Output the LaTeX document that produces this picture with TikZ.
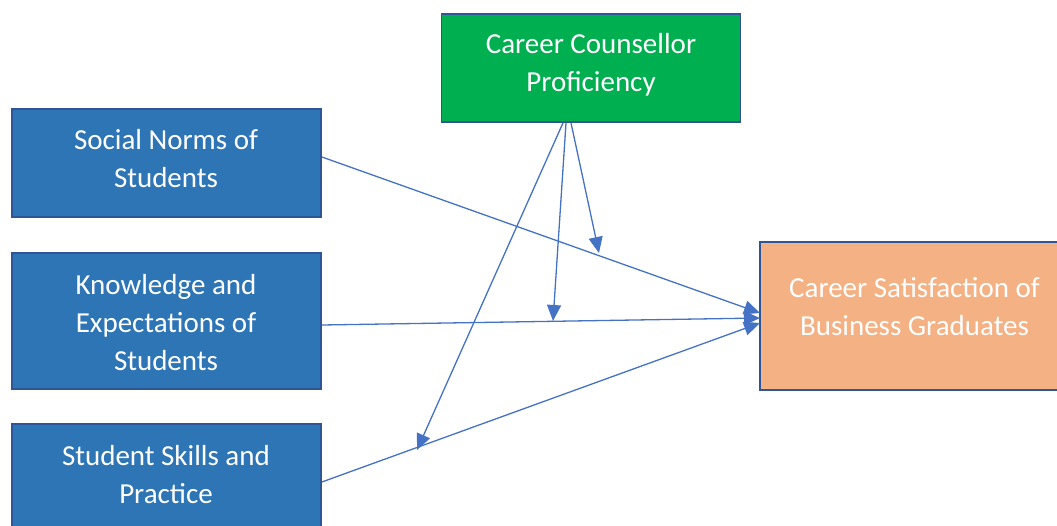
\documentclass[tikz,border=0pt]{standalone}
\usepackage{fontspec}
\setmainfont{Carlito}
\usetikzlibrary{arrows.meta,calc}

\definecolor{boxblue}{HTML}{2E75B6}
\definecolor{boxedge}{HTML}{2F5597}
\definecolor{boxgreen}{HTML}{00B050}
\definecolor{boxorange}{HTML}{F4B183}
\definecolor{linkblue}{HTML}{4472C4}

\tikzset{
  panel/.style={draw=boxedge, line width=1.8pt, rectangle, inner sep=0pt},
  factor/.style={panel, fill=boxblue},
  label text/.style={text=white, align=center, font=\fontsize{29}{38}\selectfont, inner sep=0pt},
  link/.style={draw=linkblue, line width=1.3pt, -{Triangle[length=16pt,width=14pt]}}
}

\begin{document}
\begin{tikzpicture}[x=1pt,y=-1pt]
\useasboundingbox (0,0) rectangle (1057,526);
\clip (0,0) rectangle (1057,526);

% boxes
\node[factor, minimum width=309pt, minimum height=108pt] (social) at (166.5,163) {};
\node[factor, minimum width=309pt, minimum height=136pt] (know) at (166.5,321) {};
\node[factor, minimum width=309pt, minimum height=130pt] (skills) at (166.5,489) {};
\node[panel, fill=boxgreen, minimum width=299pt, minimum height=108pt] (couns) at (591,68) {};
\node[panel, fill=boxorange, minimum width=309pt, minimum height=148pt] (target) at (914.5,316) {};

% box texts
\node[label text] (socialtxt) at (166,158.5) {Social Norms of\\Students};
\node[label text] (knowtxt) at (166,323) {Knowledge and\\Expectations of\\Students};
\node[label text] (skillstxt) at (166,475) {Student Skills and\\Practice};
\node[label text] (counstxt) at (591,65) {Career Counsellor\\Proficiency};
\node[label text] (targettxt) at (914.5,307) {Career Satisfaction of\\Business Graduates};

% direct effects
\coordinate (tA) at (760,313);
\coordinate (tB) at (760,318);
\coordinate (tC) at (760,323);
\draw[link] (social.east |- 0,157) -- (tA);
\draw[link] (know.east |- 0,325) -- (tB);
\draw[link] (skills.east |- 0,482) -- (tC);

% moderating effects
\coordinate (mA) at (599,253);
\coordinate (mB) at (553,321);
\coordinate (mC) at (417,450);
\draw[link] ($(couns.south)+(-20,0)$) -- (mA);
\draw[link] ($(couns.south)+(-25,0)$) -- (mB);
\draw[link] ($(couns.south)+(-28,0)$) -- (mC);
\end{tikzpicture}
\end{document}
